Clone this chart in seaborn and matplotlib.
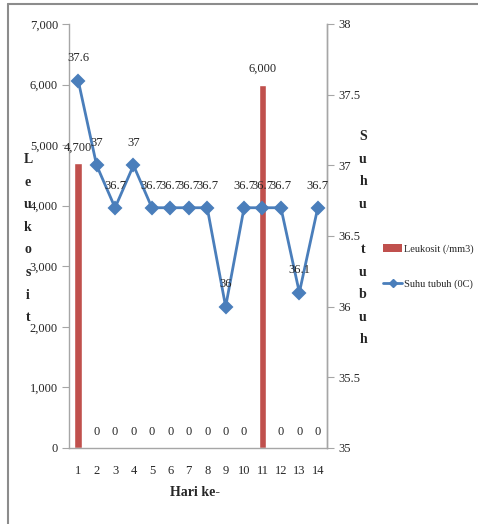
import matplotlib
matplotlib.use("Agg")
import matplotlib.pyplot as plt
import matplotlib.ticker as mticker
from matplotlib.lines import Line2D
from matplotlib.patches import Patch
import numpy as np
import pandas as pd
import seaborn as sns

# Pengamatan harian pasien
hari = [str(i) for i in range(1, 15)]
leukosit = [4700, 0, 0, 0, 0, 0, 0, 0, 0, 0, 6000, 0, 0, 0]
suhu = [37.6, 37, 36.7, 37, 36.7, 36.7, 36.7, 36.7, 36, 36.7, 36.7, 36.7, 36.1, 36.7]
leukosit_ticks = [0, 1000, 2000, 3000, 4000, 5000, 6000, 7000]
suhu_ticks = [35, 35.5, 36, 36.5, 37, 37.5, 38]

sns.set_style("white")
plt.rcParams["font.family"] = ["Liberation Serif", "DejaVu Serif"]

df = pd.DataFrame({"Hari": hari, "Leukosit": leukosit, "Suhu": suhu})

BAR = "#C0504D"
LINE = "#4A7EBB"
AXIS = "#A6A6A6"
FS = 9

fig = plt.figure(figsize=(4.78, 5.24), dpi=100)
ax = fig.add_axes([69 / 478, 76 / 524, 258 / 478, 424 / 524])

sns.barplot(data=df, x="Hari", y="Leukosit", order=hari, color=BAR,
            saturation=1, width=0.43, ax=ax, zorder=2)
ax.bar_label(ax.containers[0], labels=[f"{v:,}" for v in leukosit],
             padding=7, fontsize=FS)

ax2 = ax.twinx()
sns.pointplot(data=df, x="Hari", y="Suhu", order=hari, color=LINE,
              markers="D", markersize=6, linewidth=2, errorbar=None, ax=ax2)
for i, v in enumerate(suhu):
    ax2.annotate(f"{v:g}", (i, v), xytext=(0, 16), textcoords="offset points",
                 ha="center", va="center", fontsize=FS)

ax.set_xlim(-0.5, len(hari) - 0.5)
ax.set_ylim(leukosit_ticks[0], leukosit_ticks[-1])
ax2.set_ylim(suhu_ticks[0], suhu_ticks[-1])
ax.set_yticks(leukosit_ticks)
ax.yaxis.set_major_formatter(mticker.StrMethodFormatter("{x:,.0f}"))
ax2.set_yticks(suhu_ticks)
ax2.yaxis.set_major_formatter(mticker.StrMethodFormatter("{x:g}"))

# category boundaries carry the tick marks on the x axis
ax.set_xticks(np.arange(-0.5, len(hari)), minor=True)
ax.tick_params(axis="x", which="major", length=0, labelsize=FS, pad=12)
ax.tick_params(axis="x", which="minor", length=5, color=AXIS, width=1)
ax.tick_params(axis="y", length=5, color=AXIS, labelsize=FS, pad=3)
ax2.tick_params(axis="y", length=5, color=AXIS, labelsize=FS, pad=3)

for a in (ax, ax2):
    for s in a.spines.values():
        s.set_color(AXIS)
        s.set_linewidth(1)
    a.spines["top"].set_visible(False)
    a.grid(False)
ax2.spines["left"].set_visible(False)
ax2.spines["bottom"].set_visible(False)

ax.set_ylabel("\n".join("Leukosit"), rotation=0, fontsize=10, fontweight="bold",
              ha="center", va="center", linespacing=1.96)
ax.yaxis.set_label_coords(-0.159, 0.494)
ax2.set_ylabel("\n".join("Suhu tubuh"), rotation=0, fontsize=10, fontweight="bold",
               ha="center", va="center", linespacing=1.96)
ax2.yaxis.set_label_coords(1.14, 0.495)
ax.set_xlabel("Hari ke-", fontsize=10, fontweight="bold", va="center")
ax.xaxis.set_label_coords(0.488, -0.106)

handles = [
    Patch(facecolor=BAR, edgecolor="none"),
    Line2D([0], [0], color=LINE, lw=2, marker="D", markersize=4),
]
fig.legend(handles, ["Leukosit (/mm3)", "Suhu tubuh (0C)"], loc="upper left",
           bbox_to_anchor=(379 / 478, 1 - 240 / 524), frameon=False, fontsize=7.5,
           handlelength=1.8, handletextpad=0.2, labelspacing=2.45, borderaxespad=0)

# frame edge of the chart area
fig.add_artist(Line2D([8 / 478, 8 / 478], [0, 1 - 4 / 524], transform=fig.transFigure,
                      color="#8C8C8C", lw=1.5))
fig.add_artist(Line2D([8 / 478, 1], [1 - 4 / 524, 1 - 4 / 524], transform=fig.transFigure,
                      color="#8C8C8C", lw=1.5))

fig.savefig("out.png", dpi=100)
